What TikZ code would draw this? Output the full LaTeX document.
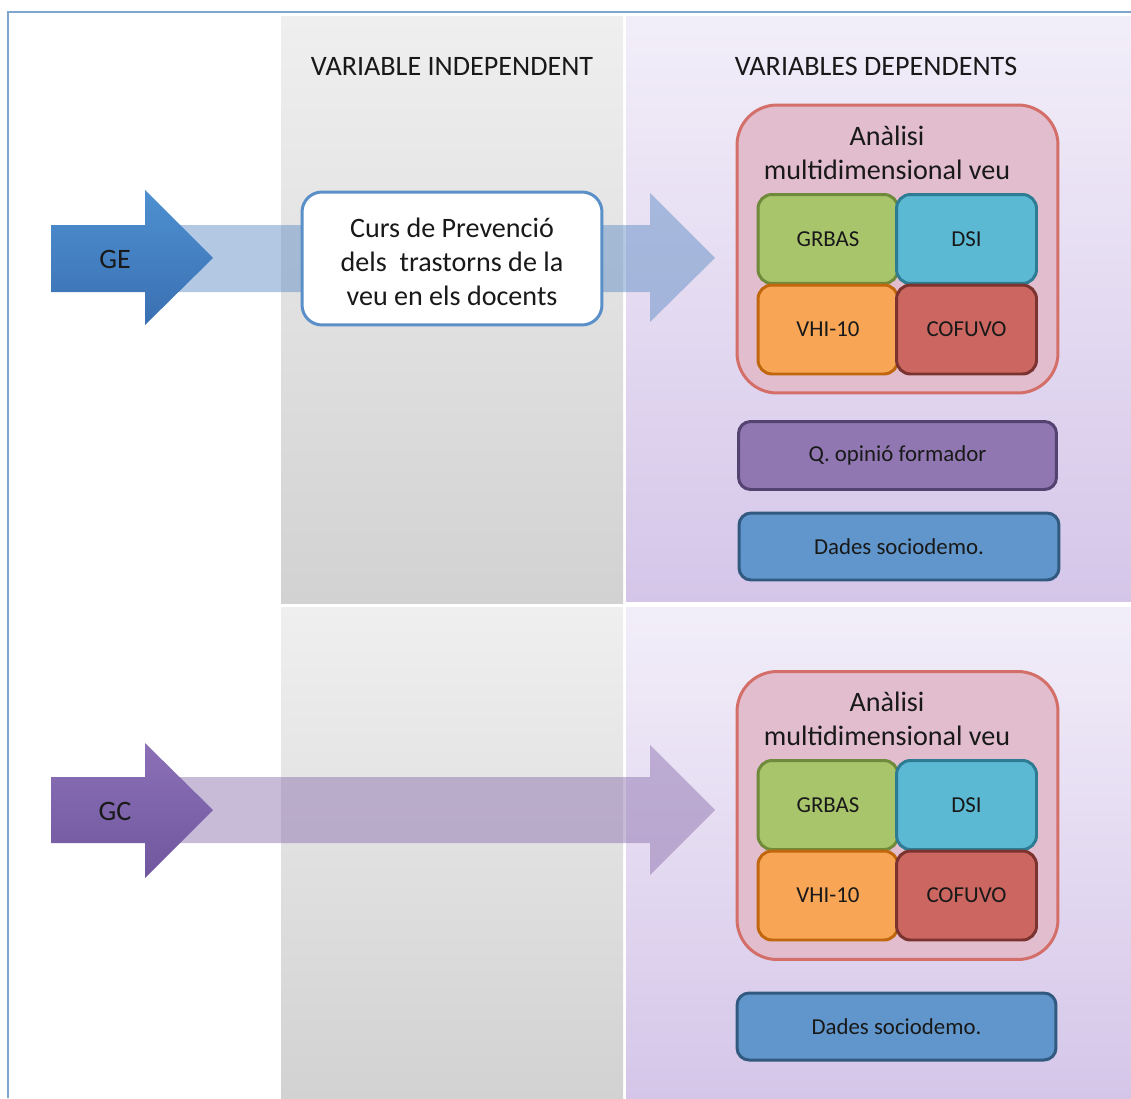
\documentclass[tikz,border=0pt]{standalone}
\usepackage{fontspec}
\setmainfont{Carlito}
\definecolor{FrameBlue}{HTML}{7EA6CF}
\definecolor{PanelGrayTop}{HTML}{EFEFEF}
\definecolor{PanelGrayBot}{HTML}{D2D2D2}
\definecolor{PanelLilacTop}{HTML}{F2EEF9}
\definecolor{PanelLilacBot}{HTML}{D5C6E9}
\definecolor{GEBlueTop}{HTML}{4E90D1}
\definecolor{GEBlueBot}{HTML}{3A70B2}
\definecolor{GCPurpleTop}{HTML}{8B70B6}
\definecolor{GCPurpleBot}{HTML}{70579E}
\definecolor{GEBand}{HTML}{5F8CC4}
\definecolor{GCBand}{HTML}{8C70AE}
\definecolor{CursLine}{HTML}{5A8FC8}
\definecolor{VeuFill}{HTML}{E2BDCD}
\definecolor{VeuLine}{HTML}{D46E68}
\definecolor{GrbasFill}{HTML}{A9C56B}
\definecolor{GrbasLine}{HTML}{6F8A3A}
\definecolor{DsiFill}{HTML}{5BB9D4}
\definecolor{DsiLine}{HTML}{2E7C93}
\definecolor{VhiFill}{HTML}{F8A656}
\definecolor{VhiLine}{HTML}{C0670E}
\definecolor{CofuvoFill}{HTML}{CC6660}
\definecolor{CofuvoLine}{HTML}{7B3330}
\definecolor{OpinioFill}{HTML}{9077B1}
\definecolor{OpinioLine}{HTML}{544270}
\definecolor{DadesFill}{HTML}{6096CB}
\definecolor{DadesLine}{HTML}{325A80}
\tikzset{
  header/.style={font=\fontsize{16}{19}\selectfont, text=black!90},
  arrowlabel/.style={font=\fontsize{16}{19}\selectfont, text=black!90},
  veubox/.style={draw=VeuLine, fill=VeuFill, line width=1.7pt, rounded corners=0.8cm,
    minimum width=6.42cm, minimum height=5.76cm},
  veutitle/.style={align=center, font=\fontsize{16}{19.5}\selectfont, text=black!90},
  testbox/.style={draw, line width=1.7pt, rounded corners=0.28cm, inner sep=0pt,
    minimum width=2.8cm, minimum height=1.78cm, font=\fontsize{13}{15.5}\selectfont, text=black!90},
  widebox/.style={draw, line width=1.7pt, rounded corners=0.24cm, inner sep=0pt,
    minimum width=6.36cm, minimum height=1.36cm, font=\fontsize{13}{15.5}\selectfont, text=black!90},
}
\begin{document}
\begin{tikzpicture}[x=0.02cm, y=-0.02cm]
    \useasboundingbox (0,0) rectangle (1131,1098);

    % Background panels (top row: GE, bottom row: GC)
    \shade[top color=PanelGrayTop, bottom color=PanelGrayBot] (281,17) rectangle (623,603);
    \shade[top color=PanelLilacTop, bottom color=PanelLilacBot] (626,17) rectangle (1131,601);
    \shade[top color=PanelGrayTop, bottom color=PanelGrayBot] (281,607) rectangle (623,1098);
    \shade[top color=PanelLilacTop, bottom color=PanelLilacBot] (626,607) rectangle (1131,1098);

    % Frame
    \draw[FrameBlue, line width=1pt] (8,1098) -- (8,12) -- (1131,12);

    % Column headers
    \node[header] (indep) at (452,66) {VARIABLE INDEPENDENT};
    \node[header] (dep) at (876,66) {VARIABLES DEPENDENTS};

    % GE: faded band and arrow
    \fill[GEBand, opacity=0.48] (145,225) -- (650,225) -- (650,193) -- (715,258)
        -- (650,322) -- (650,292) -- (145,292) -- cycle;
    \shade[top color=GEBlueTop, bottom color=GEBlueBot] (51,225) -- (145,225) -- (145,190)
        -- (213,258) -- (145,325) -- (145,292) -- (51,292) -- cycle;
    \node[arrowlabel] (ge) at (115,259) {GE};

    % Intervention
    \node[draw=CursLine, fill=white, line width=1.7pt, rounded corners=0.4cm,
        minimum width=6cm, minimum height=2.66cm] (curs) at (452,258.5) {};
    \node[align=center, font=\fontsize{16}{19.5}\selectfont, text=black!90] (cursText)
        at (452,262) {Curs de Prevenció\\dels\ \ trastorns de la\\veu en els docents};

    % GE: voice analysis
    \node[veubox] (veuE) at (897.5,249) {};
    \node[veutitle] (titolE) at (887,153) {Anàlisi\\multidimensional veu};
    \node[testbox, draw=GrbasLine, fill=GrbasFill] (grbasE) at (828,239) {GRBAS};
    \node[testbox, draw=DsiLine, fill=DsiFill] (dsiE) at (966.5,239) {DSI};
    \node[testbox, draw=VhiLine, fill=VhiFill] (vhiE) at (828,329.5) {VHI-10};
    \node[testbox, draw=CofuvoLine, fill=CofuvoFill] (cofuvoE) at (966.5,329.5) {COFUVO};
    \node[widebox, draw=OpinioLine, fill=OpinioFill] (opinio) at (897.5,455.5) {Q. opinió formador};
    \node[widebox, draw=DadesLine, fill=DadesFill, minimum width=6.4cm, minimum height=1.34cm]
        (dadesE) at (899,546.5) {Dades sociodemo.};

    % GC: faded band and arrow
    \fill[GCBand, opacity=0.48] (145,777) -- (650,777) -- (650,745) -- (715,810)
        -- (650,875) -- (650,843) -- (145,843) -- cycle;
    \shade[top color=GCPurpleTop, bottom color=GCPurpleBot] (51,777) -- (145,777) -- (145,743)
        -- (213,810) -- (145,878) -- (145,843) -- (51,843) -- cycle;
    \node[arrowlabel] (gc) at (115,811) {GC};

    % GC: voice analysis
    \node[veubox] (veuC) at (897.5,815.5) {};
    \node[veutitle] (titolC) at (887,719) {Anàlisi\\multidimensional veu};
    \node[testbox, draw=GrbasLine, fill=GrbasFill] (grbasC) at (828,805) {GRBAS};
    \node[testbox, draw=DsiLine, fill=DsiFill] (dsiC) at (966.5,805) {DSI};
    \node[testbox, draw=VhiLine, fill=VhiFill] (vhiC) at (828,895.5) {VHI-10};
    \node[testbox, draw=CofuvoLine, fill=CofuvoFill] (cofuvoC) at (966.5,895.5) {COFUVO};
    \node[widebox, draw=DadesLine, fill=DadesFill, minimum width=6.38cm, minimum height=1.34cm]
        (dadesC) at (896.5,1026.5) {Dades sociodemo.};
\end{tikzpicture}
\end{document}
